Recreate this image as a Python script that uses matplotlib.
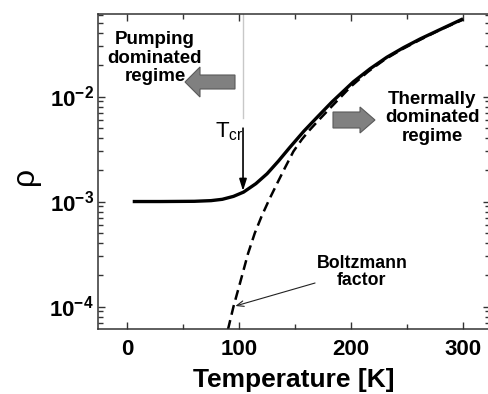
import matplotlib
matplotlib.use("Agg")
import matplotlib.pyplot as plt
import numpy as np
from matplotlib.patches import FancyArrow
from matplotlib.ticker import LogLocator, MultipleLocator, NullFormatter

plt.rcParams['font.family'] = ['Liberation Sans', 'DejaVu Sans']
plt.rcParams['mathtext.fontset'] = 'custom'
plt.rcParams['mathtext.rm'] = 'Liberation Sans'
plt.rcParams['mathtext.bf'] = 'Liberation Sans:bold'

# solid curve: total rho vs temperature
t_total = [5, 30, 60, 75, 85, 95, 104, 115, 125, 135, 145, 158, 170, 183,
           202, 217, 232, 247, 262, 280, 300]
rho_total = [1.0e-3, 1.0e-3, 1.005e-3, 1.02e-3, 1.05e-3, 1.12e-3, 1.23e-3,
             1.48e-3, 1.84e-3, 2.42e-3, 3.25e-3, 4.7e-3, 6.4e-3, 8.9e-3,
             1.38e-2, 1.84e-2, 2.37e-2, 2.93e-2, 3.55e-2, 4.37e-2, 5.5e-2]

# dashed curve: Boltzmann factor
t_boltz = [90, 95, 101, 108, 114, 120, 127, 134, 141, 148.5, 156, 163, 172,
           182, 200, 215, 230, 245, 260, 280, 300]
rho_boltz = [6.0e-5, 1.0e-4, 1.7e-4, 3.2e-4, 5.0e-4, 7.2e-4, 1.05e-3, 1.49e-3,
             2.1e-3, 3.0e-3, 3.9e-3, 4.8e-3, 6.1e-3, 7.9e-3, 1.25e-2, 1.72e-2,
             2.25e-2, 2.8e-2, 3.4e-2, 4.35e-2, 5.4e-2]

t_cr = 103.5
x_ticks = [0, 100, 200, 300]
y_ticks = [1e-4, 1e-3, 1e-2]
y_ticklabels = [r'$\mathbf{10^{-4}}$', r'$\mathbf{10^{-3}}$', r'$\mathbf{10^{-2}}$']

W, H = 489, 394
fig = plt.figure(figsize=(W / 100, H / 100), dpi=100)
# frame in pixels: x 98..490.5, y 14..329 (from top)
ax = fig.add_axes([98 / W, (H - 329) / H, 392.5 / W, 315 / H])
ax.set_xlim(-26, 324.5)
ax.set_ylim(10 ** -4.214, 10 ** -1.214)
ax.set_yscale('log')

ax.plot(t_total, rho_total, color='black', lw=2.4, solid_capstyle='butt',
        solid_joinstyle='round')
ax.plot(t_boltz, rho_boltz, color='black', lw=1.8, dashes=(4, 2.2))

# T_cr marker
y_tip = np.interp(t_cr, t_total, rho_total)
ax.plot([t_cr, t_cr], [10 ** -1.214, 6.2e-3], color='#c8c8c8', lw=1)
ax.annotate('', xy=(t_cr, y_tip * 1.03), xytext=(t_cr, 5.0e-3),
            arrowprops=dict(arrowstyle='-|>,head_length=0.7,head_width=0.22',
                            color='black', lw=1.2, shrinkA=0, shrinkB=0))
ax.text(0.298, 0.6095, r'$\mathregular{T_{cr}}$', transform=ax.transAxes,
        fontsize=16, ha='left', va='baseline')

for sp in ax.spines.values():
    sp.set_color('#333333')
    sp.set_linewidth(1.1)

ax.set_xticks(x_ticks)
ax.set_xticklabels([str(v) for v in x_ticks])
ax.xaxis.set_minor_locator(MultipleLocator(50))
ax.set_yticks(y_ticks)
ax.set_yticklabels(y_ticklabels)
ax.yaxis.set_minor_locator(LogLocator(base=10, subs=np.arange(2, 10)))
ax.yaxis.set_minor_formatter(NullFormatter())
ax.tick_params(which='both', direction='in', top=True, right=True,
               color='#333333', width=1)
ax.tick_params(which='major', length=5)
ax.tick_params(which='minor', length=3.5)
ax.tick_params(axis='x', which='major', pad=7, labelsize=16)
ax.tick_params(axis='y', which='major', pad=3, labelsize=16)
for lab in ax.get_xticklabels():
    lab.set_fontweight('bold')

ax.set_xlabel('Temperature [K]', fontsize=19, fontweight='bold', labelpad=6)
fig.text(25 / W, 1 - 176 / H, 'ρ', rotation=90, fontsize=23,
         ha='center', va='center')

# region labels
ax.text(0.145, 0.86, 'Pumping\ndominated\nregime', transform=ax.transAxes,
        fontsize=13.5, fontweight='bold', ha='center', va='center',
        linespacing=1.12)
ax.text(0.851, 0.670, 'Thermally\ndominated\nregime', transform=ax.transAxes,
        fontsize=13.5, fontweight='bold', ha='center', va='center',
        linespacing=1.12)
ax.text(0.6726, 0.181, 'Boltzmann\nfactor', transform=ax.transAxes,
        fontsize=12.8, fontweight='bold', ha='center', va='center',
        linespacing=1.05)
ax.annotate('', xy=(0.35, 0.073), xytext=(0.553, 0.146),
            xycoords='axes fraction',
            arrowprops=dict(arrowstyle='->,head_length=0.5,head_width=0.2',
                            color='#222222', lw=0.8, shrinkA=0, shrinkB=0))


def gray_arrow(x0, x1, yc, shaft, head_w, head_l):
    # pixel coords measured from the top-left of the picture
    arr = FancyArrow(x0, H - yc, x1 - x0, 0, width=shaft,
                     head_width=head_w, head_length=head_l,
                     length_includes_head=True, facecolor='#808080',
                     edgecolor='#5a5a5a', lw=0.8,
                     transform=matplotlib.transforms.IdentityTransform())
    fig.patches.append(arr)


gray_arrow(235, 185, 82, 14, 30, 15)
gray_arrow(333, 375, 120, 16, 26, 15)

fig.savefig('out.png', dpi=100)
